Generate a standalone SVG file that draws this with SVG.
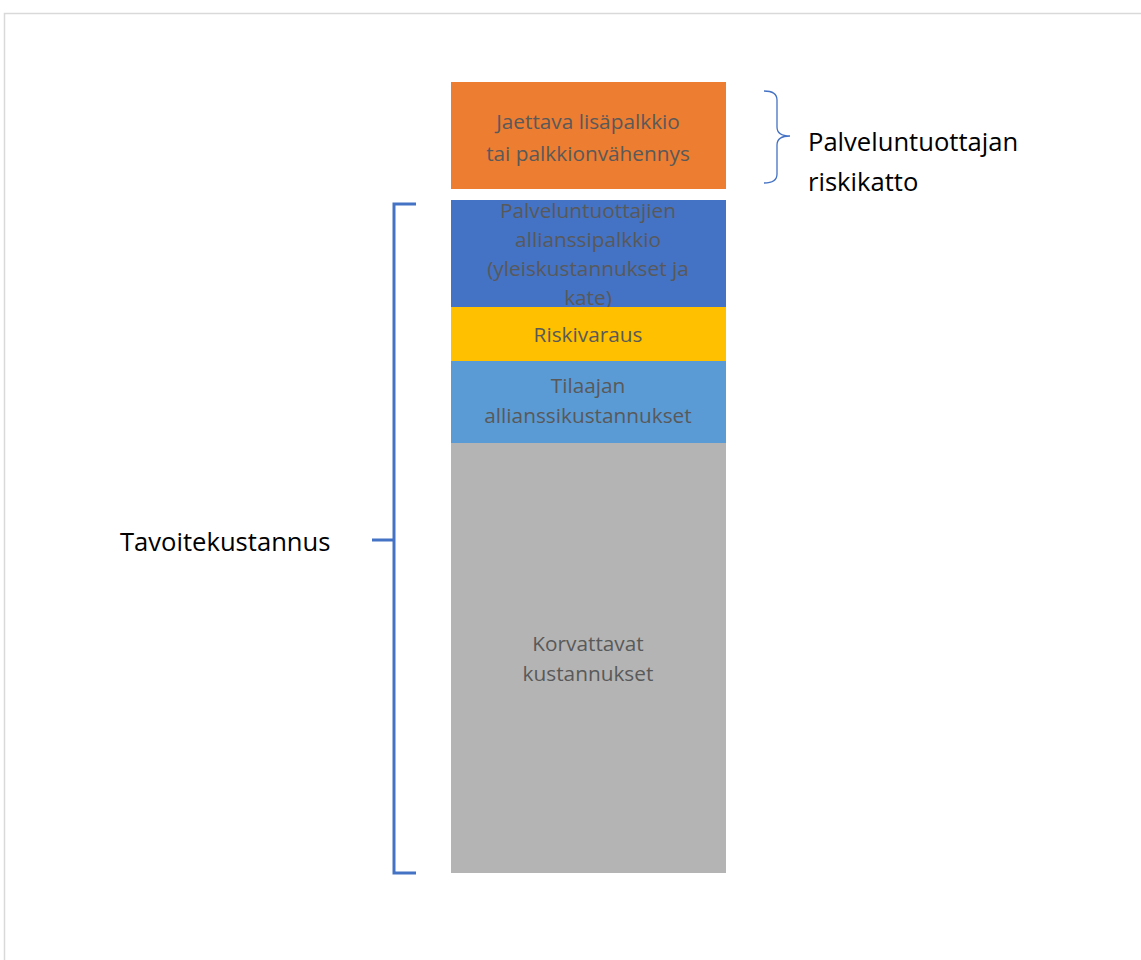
<svg xmlns="http://www.w3.org/2000/svg" width="1141" height="960" viewBox="0 0 1141 960">
<style>
.bt{font-family:"Open Sans","Liberation Sans",sans-serif;font-size:20.8px;fill:#595959;text-anchor:middle}
.lt{font-family:"Open Sans","Liberation Sans",sans-serif;font-size:25.6px;fill:#000}
.br{fill:none;stroke:#4472C4}
</style>
<rect x="0" y="0" width="1141" height="960" fill="#fff"/>
<path d="M4.5 960 V13.5 H1141" fill="none" stroke="#d9d9d9" stroke-width="1.5"/>
<g id="orange"><rect x="451" y="82" width="275" height="107" fill="#ED7D31"/>
<text class="bt" x="588" y="129">Jaettava lisäpalkkio</text><text class="bt" x="588" y="161">tai palkkionvähennys</text></g>
<g id="blue"><rect x="451" y="200" width="275" height="107" fill="#4472C4"/>
<text class="bt" x="588" y="218">Palveluntuottajien</text><text class="bt" x="588" y="247">allianssipalkkio</text><text class="bt" x="588" y="276">(yleiskustannukset ja</text><text class="bt" x="588" y="305">kate)</text></g>
<g id="yellow"><rect x="451" y="307" width="275" height="54" fill="#FFC000"/>
<text class="bt" x="588" y="342">Riskivaraus</text></g>
<g id="lightblue"><rect x="451" y="361" width="275" height="82" fill="#5B9BD5"/>
<text class="bt" x="588" y="393">Tilaajan</text><text class="bt" x="588" y="423">allianssikustannukset</text></g>
<g id="gray"><rect x="451" y="443" width="275" height="430" fill="#B4B4B4"/>
<text class="bt" x="588" y="651">Korvattavat</text><text class="bt" x="588" y="681">kustannukset</text></g>
<g id="connectors">
<path class="br" stroke-width="3" d="M416 204 H394 V873 H416 M372 540 H394"/>
<path class="br" stroke-width="1.3" d="M764 91 Q777 91 777 100 V127 Q777 136 790 136 M790 136 Q777 136 777 145 V174 Q777 183 764 183"/>
</g>
<g id="label-riskikatto"><text class="lt" x="808" y="151">Palveluntuottajan</text><text class="lt" x="808" y="191">riskikatto</text></g>
<g id="label-tavoite"><text class="lt" x="120" y="551">Tavoitekustannus</text></g>
</svg>
